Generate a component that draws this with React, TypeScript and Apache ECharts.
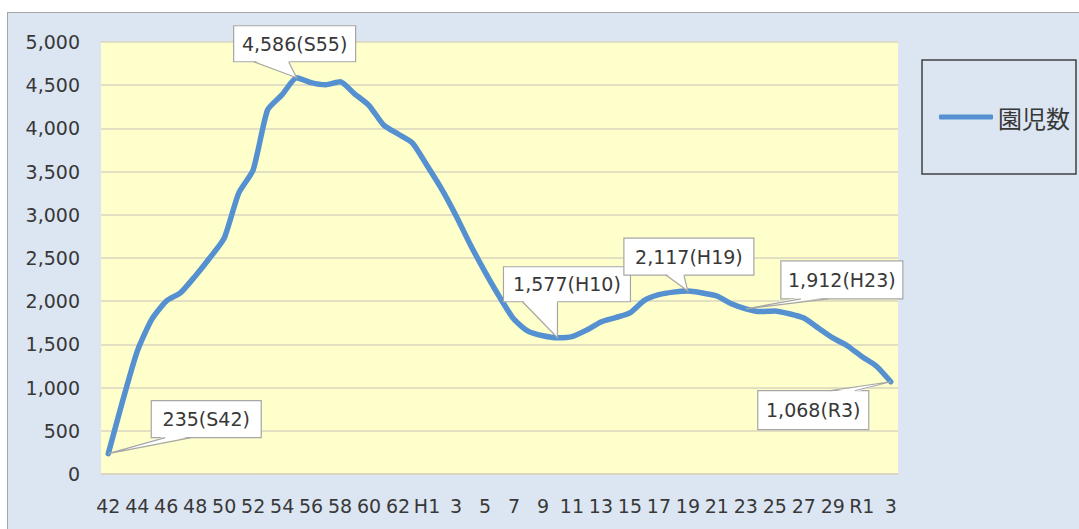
import React, { useEffect, useRef } from 'react';
import * as echarts from 'echarts';

// Full era names for each year (S = Showa, H = Heisei, R = Reiwa)
const eraNames = [
  'S42', 'S43', 'S44', 'S45', 'S46', 'S47', 'S48', 'S49', 'S50', 'S51', 'S52',
  'S53', 'S54', 'S55', 'S56', 'S57', 'S58', 'S59', 'S60', 'S61', 'S62', 'S63',
  'H1', 'H2', 'H3', 'H4', 'H5', 'H6', 'H7', 'H8', 'H9', 'H10',
  'H11', 'H12', 'H13', 'H14', 'H15', 'H16', 'H17', 'H18', 'H19', 'H20',
  'H21', 'H22', 'H23', 'H24', 'H25', 'H26', 'H27', 'H28', 'H29', 'H30',
  'R1', 'R2', 'R3',
];

// Tick labels as displayed on the axis
const tickLabels = [
  '42', '43', '44', '45', '46', '47', '48', '49', '50', '51', '52',
  '53', '54', '55', '56', '57', '58', '59', '60', '61', '62', '63',
  'H1', '2', '3', '4', '5', '6', '7', '8', '9', '10',
  '11', '12', '13', '14', '15', '16', '17', '18', '19', '20',
  '21', '22', '23', '24', '25', '26', '27', '28', '29', '30',
  'R1', '2', '3',
];

// 園児数
const children = [
  235, 850, 1420, 1790, 2000, 2100, 2290, 2500, 2730, 3250,
  3520, 4215, 4390, 4586, 4530, 4505, 4540, 4400, 4265, 4040,
  3935, 3830, 3570, 3300, 2990, 2650, 2340, 2050, 1790, 1650,
  1600, 1577, 1590, 1665, 1760, 1810, 1865, 2010, 2075, 2105,
  2117, 2095, 2060, 1970, 1912, 1880, 1888, 1855, 1805, 1690,
  1575, 1485, 1360, 1250, 1068,
];

const seriesName = '園児数';

// Annotated points (indices into the data)
const calloutIndices = [0, 13, 31, 40, 44, 54];

// Callout box layout relative to the point: dx, dy (box top-left), w, h,
// wedge base along edge (b1, b2 offsets from box left), edge: 'bottom' | 'top'
const calloutLayout = [
  { dx: 43, dy: -53, w: 110, h: 37, b1: 14, b2: 40, edge: 'bottom' },
  { dx: -63, dy: -52, w: 122, h: 36, b1: 20, b2: 55, edge: 'bottom' },
  { dx: -54, dy: -71, w: 127, h: 35, b1: 19, b2: 54, edge: 'bottom' },
  { dx: -64, dy: -53, w: 130, h: 37, b1: 42, b2: 60, edge: 'bottom' },
  { dx: 35, dy: -48, w: 122, h: 38, b1: 20, b2: 47, edge: 'bottom' },
  { dx: -133, dy: 9, w: 111, h: 39, b1: 71, b2: 97, edge: 'top' },
];

const TEXT = '#383838';
const FONT = '"DejaVu Sans", sans-serif';
const LINE = '#5590d0';
const GRID = '#d9d4bf';

export default function App() {
  const ref = useRef<HTMLDivElement>(null);

  useEffect(() => {
    const chart = echarts.init(ref.current!, null, { renderer: 'svg' });
    chart.setOption({
      animation: false,
      backgroundColor: 'transparent',
      grid: {
        left: 101,
        right: 181,
        top: 42,
        bottom: 55,
        show: true,
        backgroundColor: '#ffffcc',
        borderWidth: 0,
      },
      legend: {
        left: 922,
        top: 60,
        orient: 'vertical',
        data: [{ name: seriesName, icon: 'roundRect' }],
        itemWidth: 54,
        itemHeight: 5,
        borderColor: '#404040',
        borderWidth: 1.5,
        backgroundColor: '#dce6f2',
        padding: [45, 6, 45, 17],
        textStyle: { fontSize: 24, color: TEXT, fontFamily: '"Noto Sans CJK JP", sans-serif' },
      },
      xAxis: {
        type: 'category',
        data: tickLabels,
        boundaryGap: true,
        axisLine: { show: true, lineStyle: { color: GRID, width: 1.5 } },
        axisTick: { show: false },
        axisLabel: {
          interval: 1,
          fontSize: 19,
          color: TEXT,
          fontFamily: FONT,
          margin: 22,
        },
      },
      yAxis: {
        type: 'value',
        min: 0,
        max: 5000,
        interval: 500,
        axisLine: { show: false },
        axisTick: { show: false },
        splitLine: { lineStyle: { color: GRID, width: 1.5 } },
        axisLabel: {
          fontSize: 19,
          color: TEXT,
          fontFamily: FONT,
          margin: 21,
          formatter: (v: number) => v.toLocaleString('en-US'),
        },
      },
      series: [
        {
          name: seriesName,
          type: 'line',
          data: children,
          symbol: 'none',
          smooth: 0.2,
          itemStyle: { color: LINE },
          lineStyle: { color: LINE, width: 5.5, cap: 'round', join: 'round' },
        },
      ],
    });

    const graphics: any[] = [];
    calloutIndices.forEach((idx, k) => {
      const lay = calloutLayout[k];
      const pt = chart.convertToPixel({ seriesIndex: 0 }, [idx, children[idx]]) as number[];
      const px = pt[0];
      const py = pt[1];
      const bx = px + lay.dx;
      const by = py + lay.dy;
      const edgeY = lay.edge === 'bottom' ? by + lay.h : by;
      const inner = lay.edge === 'bottom' ? -1.5 : 1.5;
      graphics.push({
        id: 'box' + k,
        type: 'rect',
        shape: { x: bx, y: by, width: lay.w, height: lay.h },
        style: { fill: '#ffffff', stroke: '#a6a6a6', lineWidth: 1.2 },
        z: 10,
      });
      graphics.push({
        id: 'wedgeFill' + k,
        type: 'polygon',
        shape: {
          points: [
            [px, py],
            [bx + lay.b1, edgeY + inner],
            [bx + lay.b2, edgeY + inner],
          ],
        },
        style: { fill: '#ffffff', stroke: 'none' },
        z: 11,
      });
      graphics.push({
        id: 'wedgeLine' + k,
        type: 'polyline',
        shape: {
          points: [
            [bx + lay.b1, edgeY],
            [px, py],
            [bx + lay.b2, edgeY],
          ],
        },
        style: { fill: 'none', stroke: '#a6a6a6', lineWidth: 1.2 },
        z: 12,
      });
      graphics.push({
        id: 'txt' + k,
        type: 'text',
        x: bx + lay.w / 2,
        y: by + lay.h / 2,
        style: {
          text: children[idx].toLocaleString('en-US') + '(' + eraNames[idx] + ')',
          fill: TEXT,
          fontSize: 19,
          fontFamily: FONT,
          align: 'center',
          verticalAlign: 'middle',
        },
        z: 13,
      });
    });
    chart.setOption({ graphic: graphics });

    return () => chart.dispose();
  }, []);

  return (
    <div style={{ position: 'fixed', left: 0, top: 0, width: 1079, height: 529, background: '#ffffff', overflow: 'hidden' }}>
      <div
        style={{
          position: 'absolute',
          left: 7,
          top: 12,
          width: 1090,
          height: 540,
          background: '#dce6f2',
          border: '1px solid #a6a6a6',
        }}
      />
      <div ref={ref} style={{ position: 'absolute', left: 0, top: 0, width: 1079, height: 529 }} />
    </div>
  );
}
